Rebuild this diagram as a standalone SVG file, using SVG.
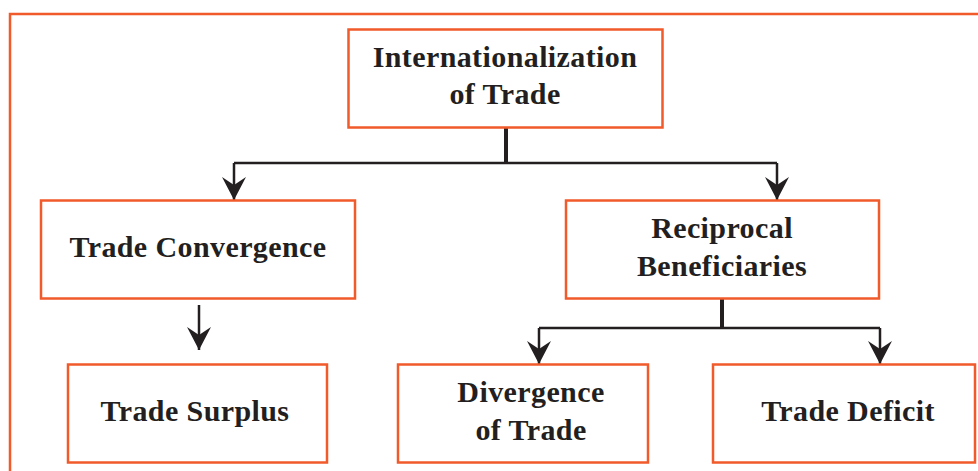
<svg xmlns="http://www.w3.org/2000/svg" width="978" height="471" viewBox="0 0 978 471">
<style>
.box{fill:#fff;stroke:#F15A2B;stroke-width:2.5}
.frame{fill:none;stroke:#F15A2B;stroke-width:2.5}
.t{font-family:"Liberation Serif","Times New Roman",serif;font-weight:bold;font-size:30px;letter-spacing:0.4px;fill:#231F20;text-anchor:middle}
.ln{fill:none;stroke:#231F20;stroke-width:2.5}
.stem{fill:none;stroke:#231F20;stroke-width:4}
</style>
<defs>
<marker id="ah" markerWidth="23" markerHeight="24" refX="23" refY="12" orient="auto" markerUnits="userSpaceOnUse" viewBox="0 0 23 24">
<path d="M0,0 L8,12 L0,24 L23,12 Z" fill="#231F20"/>
</marker>
</defs>
<path class="frame" d="M10,472 V14 H980"/>
<g id="connectors">
<path class="stem" d="M506,128 V163"/>
<path class="ln" d="M234,163 H777"/>
<path class="ln" d="M234,163 V200" marker-end="url(#ah)"/>
<path class="ln" d="M777,163 V200" marker-end="url(#ah)"/>
<path class="ln" d="M199,305 V350" marker-end="url(#ah)"/>
<path class="stem" d="M722,299 V328"/>
<path class="ln" d="M539,328 H880"/>
<path class="ln" d="M539,328 V364" marker-end="url(#ah)"/>
<path class="ln" d="M880,328 V364" marker-end="url(#ah)"/>
</g>
<g id="n-intl">
<rect class="box" x="348.5" y="29.5" width="314" height="98"/>
<text class="t" x="505" y="67">Internationalization</text>
<text class="t" x="505" y="104">of Trade</text>
</g>
<g id="n-conv">
<rect class="box" x="41" y="200.5" width="314" height="98"/>
<text class="t" x="198" y="257">Trade Convergence</text>
</g>
<g id="n-recip">
<rect class="box" x="566" y="200.5" width="313" height="98"/>
<text class="t" x="722" y="238">Reciprocal</text>
<text class="t" x="722" y="276">Beneficiaries</text>
</g>
<g id="n-surplus">
<rect class="box" x="68" y="364.5" width="259" height="98"/>
<text class="t" x="195" y="421">Trade Surplus</text>
</g>
<g id="n-div">
<rect class="box" x="398" y="364.5" width="250" height="98"/>
<text class="t" x="531" y="402">Divergence</text>
<text class="t" x="531" y="440">of Trade</text>
</g>
<g id="n-deficit">
<rect class="box" x="713" y="364.5" width="262" height="98"/>
<text class="t" x="848" y="421">Trade Deficit</text>
</g>
</svg>
